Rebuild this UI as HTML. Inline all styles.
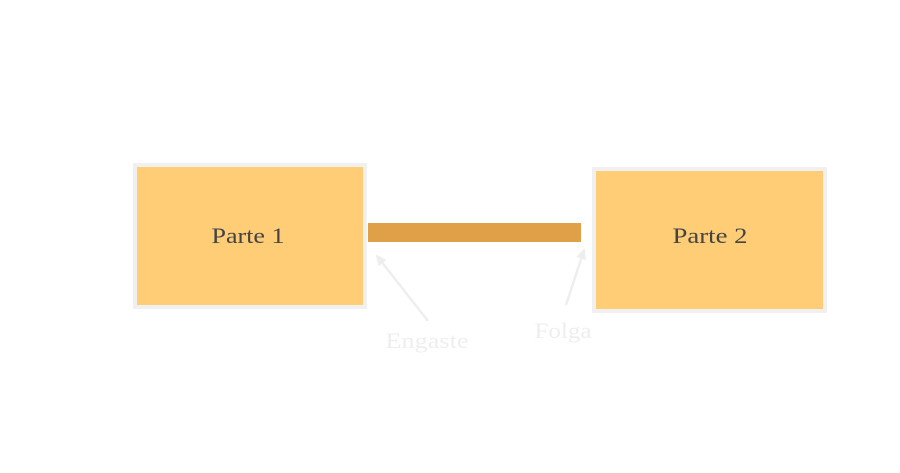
<!DOCTYPE html>
<html><head><style>
html,body{margin:0;padding:0;background:#fff;width:900px;height:473px;overflow:hidden}
</style></head><body>
<svg width="900" height="473" xmlns="http://www.w3.org/2000/svg">
<defs><marker id="a" markerWidth="12" markerHeight="12" refX="9" refY="6" orient="auto" markerUnits="userSpaceOnUse"><path d="M0,1 L11,6 L0,11 z" fill="#eeeeee"/></marker></defs>
<rect x="135" y="165" width="230" height="142" fill="#fecd76" stroke="#f0f0f0" stroke-width="4"/>
<rect x="594" y="169" width="231" height="142" fill="#fecd76" stroke="#f0f0f0" stroke-width="4"/>
<rect x="368" y="223" width="213" height="19" fill="#e0a048"/>
<g font-family="Liberation Serif, serif" font-size="22" text-anchor="middle">
<text x="248" y="243" fill="#444" textLength="73" lengthAdjust="spacingAndGlyphs">Parte 1</text>
<text x="710" y="243" fill="#444" textLength="75" lengthAdjust="spacingAndGlyphs">Parte 2</text>
<text x="427" y="348" fill="#eeeeee" textLength="83" lengthAdjust="spacingAndGlyphs">Engaste</text>
<text x="563" y="338" fill="#eeeeee" textLength="57" lengthAdjust="spacingAndGlyphs">Folga</text>
</g>
<line x1="428" y1="321" x2="377" y2="256" stroke="#eeeeee" stroke-width="2.5" marker-end="url(#a)"/>
<line x1="566" y1="305" x2="584" y2="250" stroke="#eeeeee" stroke-width="2.5" marker-end="url(#a)"/>
</svg>
</body></html>
